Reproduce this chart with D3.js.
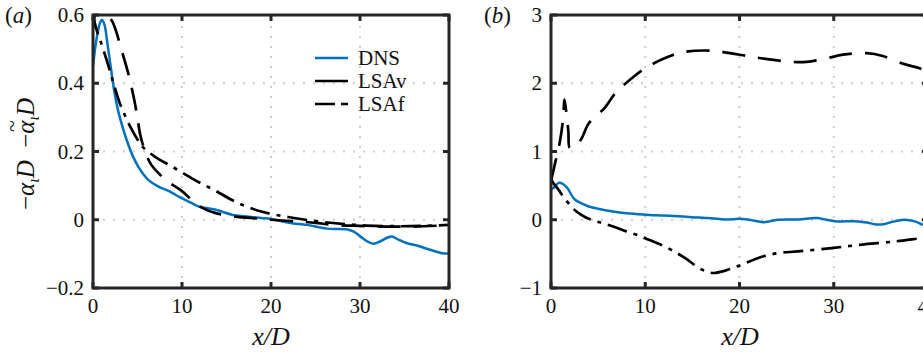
<!DOCTYPE html>
<html>
<head>
<meta charset="utf-8">
<script src="https://cdn.jsdelivr.net/npm/d3@7"></script>
<style>
  html, body { margin: 0; padding: 0; background: #fff; }
  svg { display: block; font-family: "Liberation Serif", "Times New Roman", serif; }
</style>
</head>
<body>
<svg id="fig" width="923" height="356"></svg>
<script>
// ---- data: streamwise position x/D and growth rates ----
const xTicks = [0, 10, 20, 30, 40];
const yTicksA = [-0.2, 0, 0.2, 0.4, 0.6];
const yTicksB = [-1, 0, 1, 2, 3];
const yTickLabelsA = ["\u22120.2", "0", "0.2", "0.4", "0.6"];
const yTickLabelsB = ["\u22121", "0", "1", "2", "3"];
const seriesNames = ["DNS", "LSAv", "LSAf"];

// panel (a): -alpha_i D
const dnsA = [[0,0.45],[0.4,0.53],[0.8,0.578],[1.0,0.586],[1.3,0.57],[1.6,0.52],[1.9,0.465],[2.4,0.375],[2.8,0.322],[3.4,0.265],[3.9,0.225],[4.5,0.185],[5.1,0.155],[5.7,0.132],[6.2,0.117],[7.3,0.098],[8.6,0.083],[9.9,0.064],[11,0.05],[12,0.038],[13.7,0.03],[15.9,0.013],[17.5,0.009],[18.9,0.005],[20,0.002],[21.9,-0.008],[22.5,-0.011],[24,-0.015],[26.3,-0.026],[28.5,-0.028],[29.3,-0.035],[30,-0.048],[30.8,-0.063],[31.5,-0.07],[32.3,-0.063],[33.1,-0.052],[33.6,-0.049],[34.3,-0.058],[35.2,-0.068],[36.5,-0.076],[37.5,-0.085],[38.5,-0.093],[39.2,-0.098],[40,-0.099]];
const lsavA = [[0,0.56],[0.5,0.615],[1.2,0.6],[2,0.588],[2.5,0.56],[3.2,0.498],[3.9,0.435],[4.4,0.38],[4.9,0.315],[5.3,0.25],[5.7,0.212],[6.5,0.163],[7.5,0.133],[8.4,0.112],[9.9,0.086],[11,0.06],[11.8,0.042],[13,0.026],[13.7,0.02],[15.9,0.009],[18,0.005],[20,0.0],[23,-0.005],[25,-0.009],[27,-0.015],[30,-0.018],[33,-0.02],[36,-0.02],[40,-0.016]];
const lsafA = [[0,0.6],[0.4,0.557],[0.8,0.527],[1.35,0.483],[1.7,0.454],[2.3,0.4],[3.0,0.342],[3.6,0.305],[4.2,0.272],[5.0,0.235],[5.6,0.213],[6.9,0.186],[9.2,0.151],[11.4,0.117],[13.7,0.086],[16.3,0.049],[18.9,0.024],[21.9,0.008],[25,-0.004],[28,-0.012],[30.7,-0.017],[34,-0.019],[37,-0.018],[40,-0.015]];

// panel (b): -tilde alpha_i D
const dnsB = [[0,0.45],[0.3,0.47],[0.8,0.54],[1.2,0.53],[1.7,0.47],[2.5,0.3],[3.3,0.235],[4,0.195],[5,0.16],[6.4,0.125],[8,0.095],[10,0.075],[12,0.062],[13.5,0.05],[15,0.038],[17,0.022],[18.4,0.005],[19.3,0.008],[20,0.015],[21,0.0],[22.5,-0.035],[23.3,-0.02],[24.1,0.0],[26.2,0.005],[28.2,0.024],[29.2,0.0],[30.1,-0.022],[32.6,-0.024],[33.5,-0.04],[34.5,-0.07],[35.3,-0.065],[36.1,-0.035],[37.5,0.0],[38.6,-0.024],[39.4,-0.07],[40,-0.09]];
const lsavB = [[0,0.57],[0.07,0.61],[0.6,0.93],[0.95,1.15],[1.3,1.5],[1.42,1.76],[1.6,1.6],[1.84,1.3],[2.0,1.05],[2.5,1.08],[3.2,1.18],[4,1.41],[5.7,1.64],[6.8,1.85],[8.8,2.1],[10.1,2.23],[12.3,2.38],[14,2.455],[16.4,2.48],[18.3,2.455],[20.8,2.4],[22.6,2.36],[25,2.32],[26.8,2.31],[29.1,2.36],[31,2.42],[33.5,2.44],[35.2,2.4],[37.5,2.28],[39.1,2.22],[40,2.17]];
const lsafB = [[0,0.6],[0.24,0.54],[0.8,0.44],[1.3,0.34],[2.0,0.22],[2.7,0.12],[3.6,0.04],[4.7,-0.02],[5.5,-0.05],[6.6,-0.1],[8,-0.17],[9.6,-0.245],[10,-0.27],[12.4,-0.415],[14.2,-0.56],[16,-0.73],[17.2,-0.78],[18.5,-0.745],[20.2,-0.66],[22.3,-0.546],[24.1,-0.488],[26.2,-0.464],[29.8,-0.415],[32.9,-0.366],[36.5,-0.318],[39.4,-0.268],[40,-0.26]];

// ---- styling ----
const BLUE = "#0072BD";
const FRAME = "#262626";
const TEXT = "#111";
const styles = {
  DNS:  { stroke: BLUE,   dash: null,          legendDash: null,      width: 2.5 },
  LSAv: { stroke: "#000", dash: "23,13",       legendDash: null,      width: 2.7 },
  LSAf: { stroke: "#000", dash: "20,7,4,7",    legendDash: "20,6,7",  width: 2.7 }
};

const svg = d3.select("#fig");
const defs = svg.append("defs");

function panel(opts) {
  const { id, left, right, top, bottom, yDomain, yTicks, yLabels, series, tag, titleX } = opts;
  const x = d3.scaleLinear().domain([0, 40]).range([left, right]);
  const y = d3.scaleLinear().domain(yDomain).range([bottom, top]);
  const g = svg.append("g");

  defs.append("clipPath").attr("id", "clip-" + id)
    .append("rect").attr("x", left).attr("y", top)
    .attr("width", right - left).attr("height", bottom - top);

  // dotted grid
  const grid = g.append("g").attr("stroke", "#cdcdcd").attr("stroke-width", 2)
    .attr("stroke-dasharray", "2,8");
  xTicks.slice(1, -1).forEach(t => grid.append("line")
    .attr("x1", x(t)).attr("x2", x(t)).attr("y1", bottom).attr("y2", top));
  yTicks.slice(1, -1).forEach(t => grid.append("line")
    .attr("x1", left).attr("x2", right).attr("y1", y(t)).attr("y2", y(t)));

  // curves
  const line = d3.line().x(d => x(d[0])).y(d => y(d[1])).curve(d3.curveCatmullRom.alpha(0.5));
  const lines = g.append("g").attr("clip-path", `url(#clip-${id})`);
  series.forEach(s => {
    const st = styles[s.name];
    lines.append("path").datum(s.data)
      .attr("d", line).attr("fill", "none")
      .attr("stroke", st.stroke).attr("stroke-width", st.width)
      .attr("stroke-dasharray", st.dash)
      .attr("stroke-linejoin", "round");
  });

  // frame with inward ticks on all sides
  const axG = g.append("g").attr("stroke", FRAME).attr("stroke-width", 3).attr("fill", "none");
  const tl = 6;
  xTicks.forEach(t => {
    axG.append("line").attr("x1", x(t)).attr("x2", x(t)).attr("y1", bottom).attr("y2", bottom - tl);
    axG.append("line").attr("x1", x(t)).attr("x2", x(t)).attr("y1", top).attr("y2", top + tl);
  });
  yTicks.forEach(t => {
    axG.append("line").attr("x1", left).attr("x2", left + tl).attr("y1", y(t)).attr("y2", y(t));
    axG.append("line").attr("x1", right).attr("x2", right - tl).attr("y1", y(t)).attr("y2", y(t));
  });
  axG.append("rect").attr("x", left).attr("y", top)
    .attr("width", right - left).attr("height", bottom - top);

  // tick labels
  const tx = g.append("g").attr("font-size", 21).attr("fill", TEXT);
  xTicks.forEach(t => tx.append("text").attr("x", x(t)).attr("y", bottom + 25)
    .attr("text-anchor", "middle").text(t));
  yTicks.forEach((t, i) => tx.append("text").attr("x", left - 9).attr("y", y(t) + 7)
    .attr("text-anchor", "end").text(yLabels[i]));

  // x axis title
  g.append("text").attr("x", titleX).attr("y", 345)
    .attr("text-anchor", "middle").attr("font-size", 26).attr("font-style", "italic")
    .attr("fill", TEXT).text("x/D");

  // panel tag
  g.append("text").attr("x", tag.x).attr("y", 23).attr("font-size", 23)
    .attr("fill", TEXT)
    .call(t => {
      t.append("tspan").text("(");
      t.append("tspan").attr("font-style", "italic").text(tag.letter);
      t.append("tspan").text(")");
    });
  return { x, y, g };
}

panel({
  id: "a", left: 93, right: 449, top: 15, bottom: 288,
  yDomain: [-0.2, 0.6], yTicks: yTicksA, yLabels: yTickLabelsA,
  series: [{ name: "DNS", data: dnsA }, { name: "LSAv", data: lsavA }, { name: "LSAf", data: lsafA }],
  tag: { x: 5, letter: "a" }, titleX: 271
});

panel({
  id: "b", left: 551, right: 928, top: 15, bottom: 288,
  yDomain: [-1, 3], yTicks: yTicksB, yLabels: yTickLabelsB,
  series: [{ name: "DNS", data: dnsB }, { name: "LSAv", data: lsavB }, { name: "LSAf", data: lsafB }],
  tag: { x: 484, letter: "b" }, titleX: 740
});

// legend in panel (a)
const leg = svg.append("g");
const legendY = [58, 81, 104];
seriesNames.forEach((name, i) => {
  const st = styles[name];
  leg.append("line").attr("x1", 315).attr("x2", 348)
    .attr("y1", legendY[i]).attr("y2", legendY[i])
    .attr("stroke", st.stroke).attr("stroke-width", st.width)
    .attr("stroke-dasharray", st.legendDash);
  leg.append("text").attr("x", 358).attr("y", legendY[i] + 7)
    .attr("font-size", 21).attr("fill", TEXT).text(name);
});

// y axis title:  -α_ι D   -α̃_ι D
const yl = svg.append("g").attr("transform", "translate(34,154) rotate(-90)");
const ylt = yl.append("text").attr("text-anchor", "middle").attr("font-size", 25).attr("fill", TEXT);
function addAlphaTerm(t, lead) {
  t.append("tspan").text(lead + "\u2212");
  t.append("tspan").attr("font-style", "italic").text("\u03b1");
  t.append("tspan").attr("font-style", "italic").attr("font-size", 16).attr("dy", 5).text("\u03b9");
  t.append("tspan").attr("font-style", "italic").attr("dy", -5).text("D");
}
addAlphaTerm(ylt, "");
addAlphaTerm(ylt, "\u00a0\u00a0");
// tilde over the second alpha
const full = ylt.text();
const idx = full.lastIndexOf("\u03b1");
const ext = ylt.node().getExtentOfChar(idx);
yl.append("text").attr("x", ext.x + ext.width / 2 + 1).attr("y", ext.y + 7)
  .attr("text-anchor", "middle").attr("font-size", 22).attr("fill", TEXT).text("~");
</script>
</body>
</html>
